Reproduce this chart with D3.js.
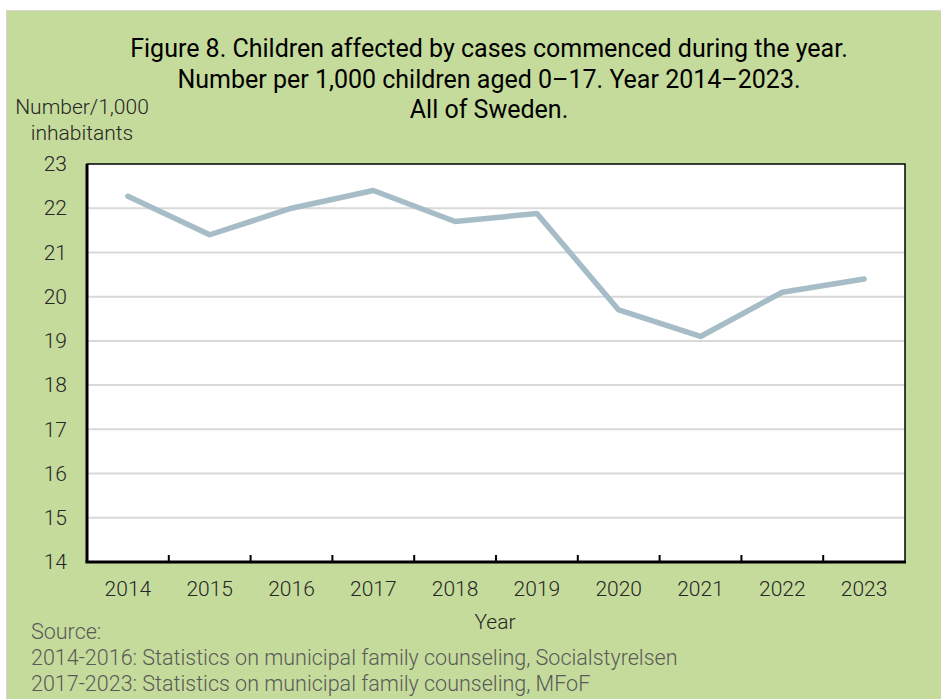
<!DOCTYPE html>
<html>
<head>
<meta charset="utf-8">
<script src="https://cdn.jsdelivr.net/npm/d3@7"></script>
<style>
  html, body { margin: 0; padding: 0; background: #ffffff; }
  svg { display: block; font-family: Roboto, "Noto Sans", sans-serif; }
</style>
</head>
<body>
<svg id="chart" width="941" height="699"></svg>
<script>
const years = ["2014","2015","2016","2017","2018","2019","2020","2021","2022","2023"];
const values = [22.27, 21.4, 22.0, 22.4, 21.7, 21.88, 19.7, 19.1, 20.1, 20.4];
const yTicks = [14, 15, 16, 17, 18, 19, 20, 21, 22, 23];
const titleLines = [
  "Figure 8. Children affected by cases commenced during the year.",
  "Number per 1,000 children aged 0\u201317. Year 2014\u20132023.",
  "All of Sweden."
];
const yTitleLines = ["Number/1,000", "inhabitants"];
const xTitle = "Year";
const sourceLines = [
  "Source:",
  "2014-2016: Statistics on municipal family counseling, Socialstyrelsen",
  "2017-2023: Statistics on municipal family counseling, MFoF"
];

const svg = d3.select("#chart");
const W = 941, H = 699;
const m = { left: 87, right: 905, top: 164, bottom: 562 };

// background panel
svg.append("rect").attr("x", 6.5).attr("y", 10.5).attr("width", W).attr("height", H)
  .attr("fill", "#c5db9b").attr("stroke", "#d6d6d6").attr("stroke-width", 1);

const x = d3.scaleBand().domain(years).range([m.left, m.right]).padding(0);
const y = d3.scaleLinear().domain([14, 23]).range([m.bottom, m.top]);

// plot area
svg.append("rect").attr("x", m.left).attr("y", m.top)
  .attr("width", m.right - m.left).attr("height", m.bottom - m.top)
  .attr("fill", "#ffffff");

// gridlines
svg.append("g").selectAll("line").data(yTicks.filter(d => d > 14 && d < 23)).join("line")
  .attr("x1", m.left).attr("x2", m.right)
  .attr("y1", d => y(d)).attr("y2", d => y(d))
  .attr("stroke", "#d9d9d9").attr("stroke-width", 2);

// frame
svg.append("rect").attr("x", m.left).attr("y", m.top)
  .attr("width", m.right - m.left).attr("height", m.bottom - m.top)
  .attr("fill", "none").attr("stroke", "#000").attr("stroke-width", 1.5);
svg.append("line").attr("x1", m.left).attr("x2", m.left).attr("y1", m.top).attr("y2", m.bottom)
  .attr("stroke", "#000").attr("stroke-width", 3);

// y axis labels
const yAxis = d3.axisLeft(y).tickValues(yTicks).tickSize(0).tickPadding(20).tickFormat(d3.format("d"));
const gy = svg.append("g").attr("transform", `translate(${m.left},0)`).call(yAxis);
gy.select(".domain").remove();
gy.selectAll("text").attr("font-size", 21).attr("font-weight", 300).attr("fill", "#262626")
  .attr("font-family", "Roboto, sans-serif");

// x axis
const xAxis = d3.axisBottom(x).tickSize(0).tickPadding(19);
const gx = svg.append("g").attr("transform", `translate(0,${m.bottom})`).call(xAxis);
gx.select(".domain").remove();
gx.selectAll("text").attr("font-size", 21).attr("font-weight", 300).attr("fill", "#262626")
  .attr("font-family", "Roboto, sans-serif");
// boundary ticks between categories
svg.append("g").selectAll("line").data(years.slice(1)).join("line")
  .attr("x1", d => x(d)).attr("x2", d => x(d))
  .attr("y1", m.bottom).attr("y2", m.bottom - 7)
  .attr("stroke", "#000").attr("stroke-width", 2);
svg.append("line").attr("x1", m.left - 1.5).attr("x2", m.right + 1)
  .attr("y1", m.bottom).attr("y2", m.bottom)
  .attr("stroke", "#000").attr("stroke-width", 3);

// line
const line = d3.line().x((d, i) => x(years[i]) + x.bandwidth() / 2).y(d => y(d));
svg.append("path").datum(values).attr("d", line)
  .attr("fill", "none").attr("stroke", "#a6bdc7").attr("stroke-width", 5.5)
  .attr("stroke-linecap", "round").attr("stroke-linejoin", "round");

// title
svg.append("text").attr("text-anchor", "middle").attr("font-size", 25).attr("fill", "#000")
  .selectAll("tspan").data(titleLines).join("tspan")
  .attr("x", 489).attr("y", (d, i) => 57 + i * 30.5).text(d => d);

// y title
svg.append("text").attr("text-anchor", "middle").attr("font-size", 21).attr("font-weight", 300).attr("fill", "#262626")
  .selectAll("tspan").data(yTitleLines).join("tspan")
  .attr("x", 82).attr("y", (d, i) => 114 + i * 26).text(d => d);

// x title
svg.append("text").attr("text-anchor", "middle").attr("font-size", 21).attr("font-weight", 300).attr("fill", "#262626")
  .attr("x", 495).attr("y", 629).text(xTitle);

// source
svg.append("text").attr("font-size", 21.5).attr("font-weight", 300).attr("fill", "#595959")
  .selectAll("tspan").data(sourceLines).join("tspan")
  .attr("x", 31).attr("y", (d, i) => 639 + i * 26).text(d => d);
</script>
</body>
</html>
